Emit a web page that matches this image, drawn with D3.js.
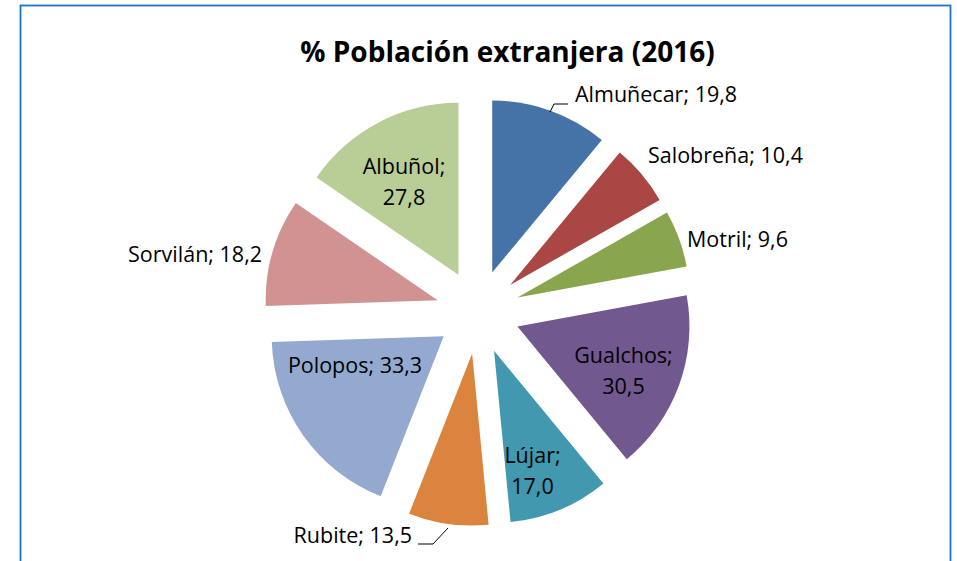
<!DOCTYPE html>
<html>
<head>
<meta charset="utf-8">
<script src="https://cdn.jsdelivr.net/npm/d3@7/dist/d3.min.js"></script>
<style>
  html, body { margin: 0; padding: 0; background: #ffffff; }
  svg { display: block; }
</style>
</head>
<body>
<svg id="chart" width="957" height="561"></svg>
<script>
// ---- data ----
const categories = ["Almuñecar", "Salobreña", "Motril", "Gualchos", "Lújar", "Rubite", "Polopos", "Sorvilán", "Albuñol"];
const values     = [19.8, 10.4, 9.6, 30.5, 17.0, 13.5, 33.3, 18.2, 27.8];
const colors     = ["#4572A7", "#AA4643", "#89A54E", "#71588F", "#4198AF", "#DB843D", "#93A9CF", "#D19392", "#B9CD96"];
const titleText  = "% Población extranjera (2016)";

// ---- layout ----
const W = 957, H = 561;
const cx = 478, cy = 312, R = 172, explode = 42;
const labelFont = "'Open Sans', 'Noto Sans', sans-serif";
// label placement relative to pie centre: [dx, dy, anchor, twoLines]
const labelLayout = [
  [97, -210, "start", false],
  [170, -149, "start", false],
  [209, -65, "start", false],
  [145.5, 51, "middle", true],
  [54.5, 151, "middle", true],
  [-66, 231, "end", false],
  [-123, 61, "middle", false],
  [-216, -50, "end", false],
  [-74, -138, "middle", true]
];
// leader lines relative to pie centre
const leaders = {
  0: [[90, -208], [76, -208], [72, -200]],
  5: [[-60, 232], [-45, 232], [-30, 216]]
};

const fmt = v => d3.format(".1f")(v).replace(".", ",");

const svg = d3.select("#chart");

// frame
svg.append("rect")
  .attr("x", 20.5).attr("y", 5.5)
  .attr("width", 930).attr("height", 620)
  .attr("fill", "#ffffff")
  .attr("stroke", "#1a74cc")
  .attr("stroke-width", 1.8);

// title
svg.append("text")
  .attr("x", 507.5).attr("y", 62)
  .attr("text-anchor", "middle")
  .style("font-family", labelFont)
  .style("font-weight", "bold")
  .style("font-size", "28px")
  .attr("fill", "#000")
  .text(titleText);

const pie = d3.pie().sort(null).value(d => d.value);
const arcs = pie(categories.map((c, i) => ({ name: c, value: values[i], color: colors[i] })));
const arc = d3.arc().innerRadius(0).outerRadius(R);

const g = svg.append("g").attr("transform", `translate(${cx},${cy})`);

g.selectAll("path.slice")
  .data(arcs)
  .join("path")
  .attr("class", "slice")
  .attr("transform", d => {
    const a = (d.startAngle + d.endAngle) / 2;
    return `translate(${explode * Math.sin(a)},${-explode * Math.cos(a)})`;
  })
  .attr("d", arc)
  .attr("fill", d => d.data.color);

// leader lines
Object.entries(leaders).forEach(([i, pts]) => {
  g.append("path")
    .attr("d", d3.line()(pts))
    .attr("fill", "none")
    .attr("stroke", "#000")
    .attr("stroke-width", 1);
});

// labels
const lab = g.selectAll("text.lbl")
  .data(arcs)
  .join("text")
  .attr("class", "lbl")
  .attr("text-anchor", (d, i) => labelLayout[i][2])
  .style("font-family", labelFont)
  .style("font-size", "21.5px")
  .attr("fill", "#000");

lab.each(function(d, i) {
  const [dx, dy, anchor, two] = labelLayout[i];
  const t = d3.select(this);
  if (two) {
    t.append("tspan").attr("x", dx).attr("y", dy).text(d.data.name + ";");
    t.append("tspan").attr("x", dx).attr("y", dy + 31).text(fmt(d.data.value));
  } else {
    t.append("tspan").attr("x", dx).attr("y", dy).text(d.data.name + "; " + fmt(d.data.value));
  }
});
</script>
</body>
</html>
